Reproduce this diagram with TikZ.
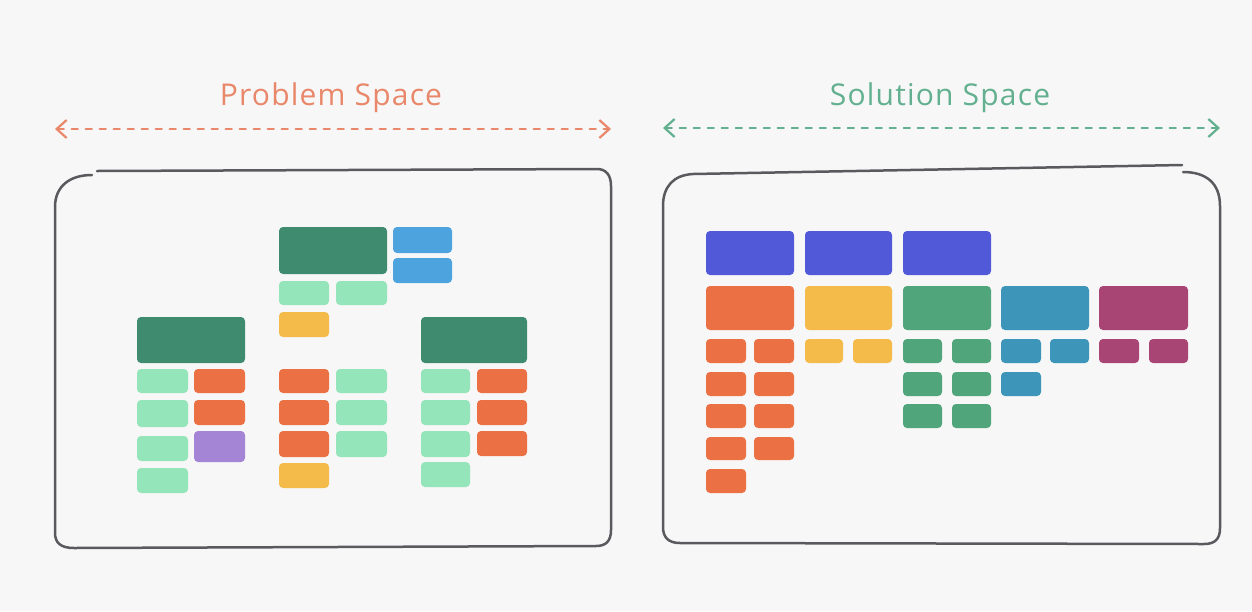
\documentclass[tikz,border=0pt]{standalone}
\usepackage{fontspec}
\setmainfont{Open Sans}[LetterSpace=4]
\usetikzlibrary{arrows.meta}

\definecolor{bg}{HTML}{F7F7F7}
\definecolor{framec}{HTML}{5A5A5E}
\definecolor{probc}{HTML}{E9876A}
\definecolor{solc}{HTML}{62B08F}
\definecolor{dkgreen}{HTML}{3E8B70}
\definecolor{skyblue}{HTML}{4CA3DE}
\definecolor{ltgreen}{HTML}{94E5B9}
\definecolor{sunyel}{HTML}{F4BB4B}
\definecolor{tang}{HTML}{EB7044}
\definecolor{lilac}{HTML}{A384D5}
\definecolor{indigo}{HTML}{5159D8}
\definecolor{midgreen}{HTML}{50A57B}
\definecolor{teal}{HTML}{3D95B9}
\definecolor{berry}{HTML}{A94575}

\newcommand\tile[5]{\fill[tile,#1] (#2,#3) rectangle (#4,#5);}

\begin{document}
\begin{tikzpicture}[x=1pt,y=-1pt,
  tile/.style={rounded corners=4pt},
  frame/.style={draw=framec, line width=2.5pt, line cap=round, line join=round},
  span/.style={line width=2.2pt, dash pattern=on 6pt off 8pt, line cap=round,
    {Straight Barb[length=10pt,width=18pt,line width=2.2pt]}-{Straight Barb[length=10pt,width=18pt,line width=2.2pt]}},
  title/.style={font=\fontsize{30}{33}\selectfont, inner sep=0pt}]

\fill[bg] (0,0) rectangle (1252,611);
\useasboundingbox (0,0) rectangle (1252,611);

% headings and span arrows
\node[title, text=probc] (ptitle) at (331,98) {Problem Space};
\node[title, text=solc] (stitle) at (940,98) {Solution Space};
\coordinate (pl) at (55,129);
\coordinate (pr) at (611,129);
\coordinate (sl) at (663,128);
\coordinate (sr) at (1220,128);
\draw[span, draw=probc] (pl) -- (pr);
\draw[span, draw=solc] (sl) -- (sr);

% left frame, with its small break at the top-left corner
\draw[frame] (92,175) .. controls (70,175) and (55,186) .. (55,207) -- (55,533)
  .. controls (55,543) and (61,548) .. (74,548) -- (596,546)
  .. controls (606,546) and (611,541) .. (611,530) -- (611,186)
  .. controls (611,175) and (606,169) .. (597,169) -- (97,171);

% right frame, broken at the top-right corner
\draw[frame] (1182,165) -- (693,174) .. controls (674,175) and (663,186) .. (663,206)
  -- (663,527) .. controls (663,538) and (669,543) .. (680,543) -- (1204,544)
  .. controls (1215,544) and (1220,539) .. (1220,528) -- (1220,206)
  .. controls (1220,183) and (1206,172) .. (1183,172);

% ---- problem space ----
% top cluster
\tile{dkgreen}{279}{227}{387}{274}
\tile{skyblue}{393}{227}{452}{253}
\tile{skyblue}{393}{258}{452}{283}
\tile{ltgreen}{279}{281}{329}{305}
\tile{ltgreen}{336}{281}{387}{305}
\tile{sunyel}{279}{312}{329}{337}
% left cluster
\tile{dkgreen}{137}{317}{245}{363}
\tile{ltgreen}{137}{369}{188}{393}
\tile{ltgreen}{137}{400}{188}{427}
\tile{ltgreen}{137}{436}{188}{461}
\tile{ltgreen}{137}{468}{188}{493}
\tile{tang}{194}{369}{245}{393}
\tile{tang}{194}{400}{245}{425}
\tile{lilac}{194}{431}{245}{462}
% middle cluster
\tile{tang}{279}{369}{329}{393}
\tile{tang}{279}{400}{329}{425}
\tile{tang}{279}{431}{329}{457}
\tile{sunyel}{279}{463}{329}{488}
\tile{ltgreen}{336}{369}{387}{393}
\tile{ltgreen}{336}{400}{387}{425}
\tile{ltgreen}{336}{431}{387}{457}
% right cluster
\tile{dkgreen}{421}{317}{527}{363}
\tile{ltgreen}{421}{369}{470}{393}
\tile{ltgreen}{421}{400}{470}{425}
\tile{ltgreen}{421}{431}{470}{457}
\tile{ltgreen}{421}{462}{470}{487}
\tile{tang}{477}{369}{527}{393}
\tile{tang}{477}{400}{527}{425}
\tile{tang}{477}{431}{527}{456}

% ---- solution space ----
\tile{indigo}{706}{231}{794}{275}
\tile{indigo}{805}{231}{892}{275}
\tile{indigo}{903}{231}{991}{275}
\tile{tang}{706}{286}{794}{330}
\tile{sunyel}{805}{286}{892}{330}
\tile{midgreen}{903}{286}{991}{330}
\tile{teal}{1001}{286}{1089}{330}
\tile{berry}{1099}{286}{1188}{330}
% orange column
\foreach \ya/\yb in {339/363,372/396,404/428,437/460}{
  \tile{tang}{706}{\ya}{746}{\yb}
  \tile{tang}{754}{\ya}{794}{\yb}
}
\tile{tang}{706}{469}{746}{493}
% yellow column
\tile{sunyel}{805}{339}{843}{363}
\tile{sunyel}{853}{339}{892}{363}
% green column
\foreach \ya/\yb in {339/363,372/396,404/428}{
  \tile{midgreen}{903}{\ya}{942}{\yb}
  \tile{midgreen}{952}{\ya}{991}{\yb}
}
% teal column
\tile{teal}{1001}{339}{1041}{363}
\tile{teal}{1050}{339}{1089}{363}
\tile{teal}{1001}{372}{1041}{396}
% berry column
\tile{berry}{1099}{339}{1139}{363}
\tile{berry}{1149}{339}{1188}{363}

\end{tikzpicture}
\end{document}
